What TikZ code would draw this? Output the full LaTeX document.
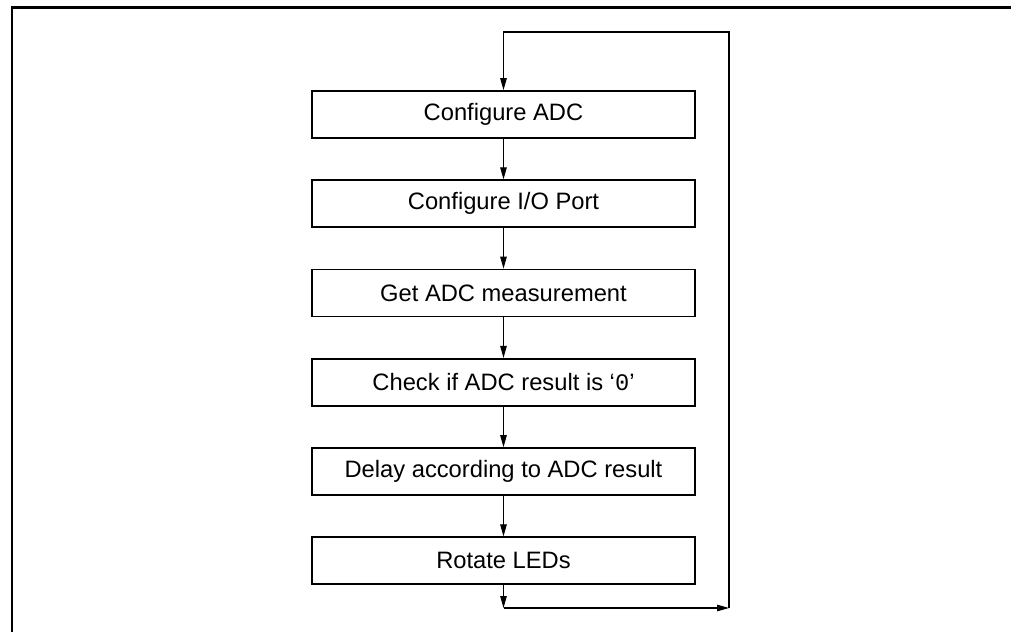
\documentclass[tikz,border=0pt]{standalone}
\usepackage{fontspec}
\setmainfont{Liberation Sans}
\setmonofont{Liberation Mono}
\usepackage{tikz}
\usetikzlibrary{positioning,calc,arrows.meta}

\tikzset{
    stepBox/.style={draw,line width=1pt,minimum width=7.66cm,minimum height=0.94cm,inner sep=0pt,font=\fontsize{13.5}{16}\selectfont},
    flowArrow/.style={-{Triangle[length=2.4mm,width=1.3mm]},line width=0.6pt}
}

\begin{document}
\begin{tikzpicture}
    \useasboundingbox (0,0) rectangle (20.22,-12.64);
    % Outer frame (top and left only)
    \draw[line width=1.2pt] (0.24,-12.64) -- (0.24,-0.15) -- (20.22,-0.15);

    % Steps
    \node[stepBox] (configAdc) at (10.07,-2.29) {Configure ADC};
    \node[stepBox,below=0.81cm of configAdc] (configPort) {Configure I/O Port};
    \node[stepBox,below=0.81cm of configPort] (getAdc) {Get ADC measurement};
    \node[stepBox,below=0.81cm of getAdc] (checkAdc) {Check if ADC result is `\texttt{0}'};
    \node[stepBox,below=0.81cm of checkAdc] (delayAdc) {Delay according to ADC result};
    \node[stepBox,below=0.81cm of delayAdc] (rotateLeds) {Rotate LEDs};

    \draw[flowArrow] (configAdc) -- (configPort);
    \draw[flowArrow] (configPort) -- (getAdc);
    \draw[flowArrow] (getAdc) -- (checkAdc);
    \draw[flowArrow] (checkAdc) -- (delayAdc);
    \draw[flowArrow] (delayAdc) -- (rotateLeds);

    % Loop back
    \coordinate (loopDown) at ($(rotateLeds.south |- 0,-12.16)$);
    \coordinate (loopRight) at (14.58,-12.16);
    \coordinate (loopTopRight) at (14.58,-0.64);
    \coordinate (loopTop) at ($(configAdc.north |- loopTopRight)$);
    \draw[flowArrow] (rotateLeds.south) -- (loopDown);
    \draw[flowArrow] (loopDown) -- (loopRight);
    \draw[flowArrow] (loopRight) -- (loopTopRight) -- (loopTop) -- (configAdc.north);
\end{tikzpicture}
\end{document}
